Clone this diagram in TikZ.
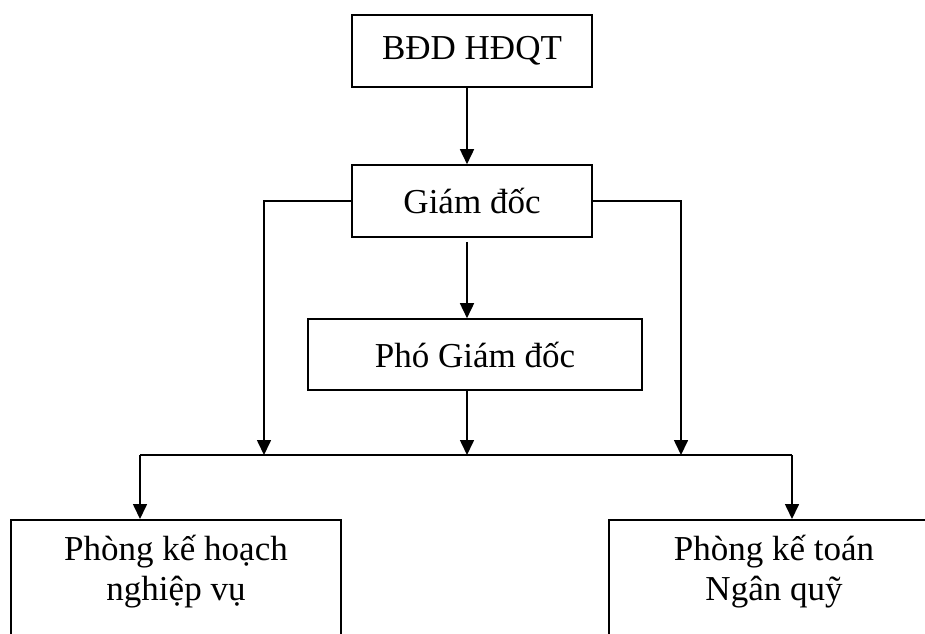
\documentclass[tikz,border=0pt]{standalone}
\usepackage{fontspec}
\setmainfont{Liberation Serif}
\usetikzlibrary{arrows.meta}
\begin{document}
\begin{tikzpicture}[x=1pt, y=-1pt,
  every node/.style={font=\fontsize{35}{40}\selectfont},
  box/.style={draw, line width=1.6pt, inner sep=0pt},
  arr/.style={-{Triangle[length=15pt, width=14pt]}, line width=1.6pt},
  conn/.style={line width=1.6pt}]
  \useasboundingbox (0,0) rectangle (925,633);
  \clip (0,0) rectangle (925,633);

  % Management boxes
  \node[box, minimum width=240pt, minimum height=72pt] (bdd) at (472,51) {BĐD HĐQT};
  \node[box, minimum width=240pt, minimum height=72pt] (gd) at (472,201) {Giám đốc};
  \node[box, minimum width=334pt, minimum height=71pt] (pgd) at (475,354.5) {Phó Giám đốc};

  % Department boxes (cut off by the page edge)
  \node[box, minimum width=330pt, minimum height=150pt, anchor=north west] (khbox) at (10,519) {};
  \node[box, minimum width=340pt, minimum height=150pt, anchor=north west] (ktbox) at (608,519) {};
  \node[align=center] (kh) at (176,572) {Phòng kế hoạch\\nghiệp vụ};
  \node[align=center] (kt) at (774,572) {Phòng kế toán\\Ngân quỹ};

  % Connectors
  \coordinate (spine) at (467,0);
  \coordinate (busL) at (140,455);
  \coordinate (busR) at (792,455);
  \coordinate (inL) at (264,455);
  \coordinate (inR) at (681,455);

  \draw[arr] (bdd.south -| spine) -- (gd.north -| spine);
  \draw[arr, shorten <=4pt] (gd.south -| spine) -- (pgd.north -| spine);
  \draw[arr] (pgd.south -| spine) -- (spine |- busL);
  \draw[arr] (gd.west) -| (inL);
  \draw[arr] (gd.east) -| (inR);
  \draw[conn] (busL) -- (busR);
  \draw[arr] (busL) -- (busL |- khbox.north);
  \draw[arr] (busR) -- (busR |- ktbox.north);
\end{tikzpicture}
\end{document}
